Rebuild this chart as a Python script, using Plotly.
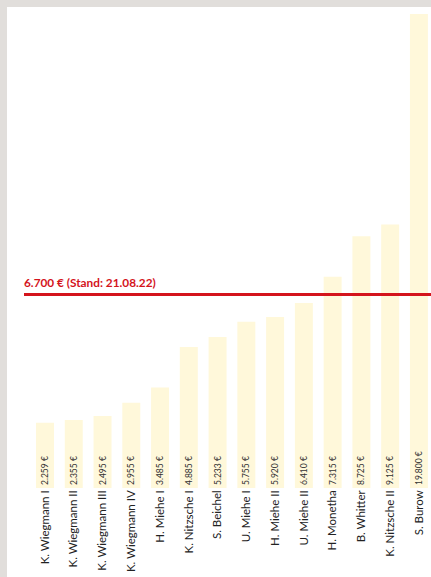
import plotly.graph_objects as go

names = ["K. Wiegmann I", "K. Wiegmann II", "K. Wiegmann III", "K. Wiegmann IV",
         "H. Miehe I", "K. Nitzsche I", "S. Beichel", "U. Miehe I", "H. Miehe II",
         "U. Miehe II", "H. Monetha", "B. Whitter", "K. Nitzsche II", "S. Burow"]
values = [2259, 2355, 2495, 2955, 3485, 4885, 5233, 5755, 5920, 6410, 7315, 8725, 9125, 19800]
value_labels = ["2.259 €", "2.355 €", "2.495 €", "2.955 €", "3.485 €", "4.885 €", "5.233 €",
                "5.755 €", "5.920 €", "6.410 €", "7.315 €", "8.725 €", "9.125 €", "19.800 €"]
ref_value = 6700
ref_label = "6.700 € (Stand: 21.08.22)"

W, H = 431, 577
ml, mr, mt, mb = 24, 0, 14, 89
pw, ph = W - ml - mr, H - mt - mb

def px_to_paper_x(px):
    return (px - ml) / pw

def px_to_paper_y(py):
    return (H - mb - py) / ph

fig = go.Figure()
fig.add_trace(go.Bar(
    x=list(range(len(names))), y=values,
    marker=dict(color="#fff8da", line=dict(width=0)),
    width=0.625,
    text=value_labels, textposition="inside", insidetextanchor="start",
    textangle=-90, textfont=dict(family="Lato", size=8.5, color="#333333"),
    hoverinfo="skip",
))

# white card over the photo background
fig.add_shape(type="rect", xref="paper", yref="paper",
              x0=px_to_paper_x(7), x1=px_to_paper_x(W + 5),
              y0=px_to_paper_y(H + 5), y1=px_to_paper_y(7),
              fillcolor="white", line=dict(width=0), layer="below")

fig.add_shape(type="line", xref="paper", yref="y", x0=0, x1=1,
              y0=ref_value, y1=ref_value, line=dict(color="#d4141c", width=3))
fig.add_annotation(xref="paper", yref="y", x=0, y=ref_value, yshift=3, xshift=-2,
                   xanchor="left", yanchor="bottom", showarrow=False,
                   text="<b>" + ref_label + "</b>",
                   font=dict(family="Lato", size=11.8, color="#d4141c"))

fig.update_layout(
    width=W, height=H,
    margin=dict(l=ml, r=mr, t=mt, b=mb, pad=0, autoexpand=False),
    paper_bgcolor="#e1dedb", plot_bgcolor="rgba(0,0,0,0)",
    showlegend=False, bargap=0.375,
    xaxis=dict(range=[-0.73, 13.42], tickmode="array",
               tickvals=list(range(len(names))), ticktext=names,
               tickangle=-90, ticks="", ticklen=0, showgrid=False, zeroline=False,
               showline=False, automargin=False, ticklabelstandoff=-1,
               tickfont=dict(family="Lato", size=11.5, color="#222222")),
    yaxis=dict(range=[0, 16420], visible=False, showgrid=False, zeroline=False),
)

fig.write_html("out.html", config={"displayModeBar": False},
               post_script="document.body.style.margin='0';document.body.style.overflow='hidden';")
